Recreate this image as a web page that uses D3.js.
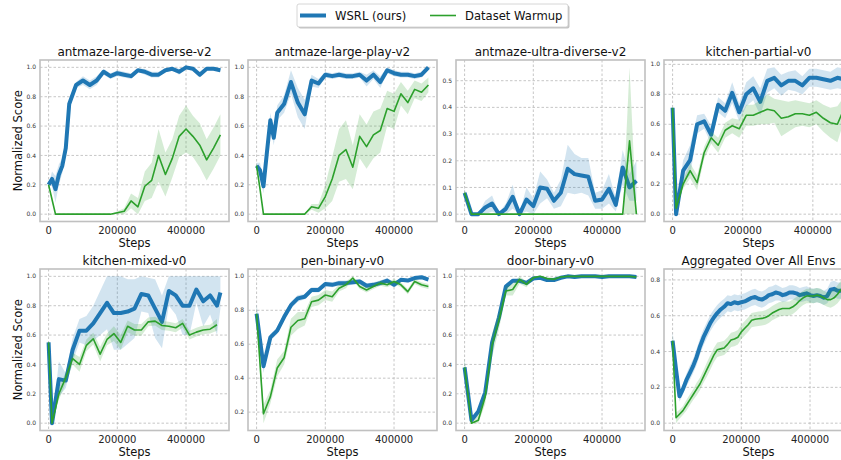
<!DOCTYPE html>
<html>
<head>
<meta charset="utf-8">
<script src="https://cdn.jsdelivr.net/npm/d3@7"></script>
<style>
  body { margin: 0; background: #fff; }
  svg { display: block; font-family: "DejaVu Sans", sans-serif; }
</style>
</head>
<body>
<div id="chart"></div>
<script>
// ---- data ----
const titles = ["antmaze-large-diverse-v2", "antmaze-large-play-v2", "antmaze-ultra-diverse-v2", "kitchen-partial-v0",
                "kitchen-mixed-v0", "pen-binary-v0", "door-binary-v0", "Aggregated Over All Envs"];
const seriesNames = ["WSRL (ours)", "Dataset Warmup"];
const xTicks = [0, 200000, 400000];

// antmaze-large-diverse
const ldSteps = [0,10000,20000,30000,40000,50000,60000,80000,100000,120000,140000,160000,180000,200000,220000,240000,260000,280000,300000,320000,340000,360000,380000,400000,420000,440000,460000,480000,500000];
const ldWsrl = [0.20,0.24,0.17,0.27,0.33,0.45,0.75,0.88,0.91,0.88,0.91,0.97,0.94,0.96,0.95,0.94,0.98,0.97,0.95,0.95,0.98,0.99,0.97,1.00,0.99,0.95,0.99,0.99,0.98];
const ldWsrlErr = [0.0,0.05,0.09,0.07,0.05,0.04,0.03,0.02,0.03,0.03,0.03,0.02,0.02,0.02,0.02,0.02,0.01,0.02,0.02,0.02,0.01,0.01,0.02,0.0,0.01,0.02,0.01,0.01,0.01];
const ldWarm = [0.20,0.10,0,0,0,0,0,0,0,0,0,0,0,0.01,0.02,0.09,0.05,0.19,0.23,0.40,0.27,0.38,0.53,0.58,0.53,0.47,0.37,0.45,0.54];
const ldWarmErr = [0,0,0,0,0,0,0,0,0,0,0,0,0,0.01,0.02,0.05,0.06,0.10,0.12,0.18,0.15,0.13,0.14,0.16,0.14,0.15,0.14,0.14,0.14];

// antmaze-large-play
const lpSteps = ldSteps;
const lpWsrl = [0.33,0.30,0.19,0.42,0.64,0.52,0.69,0.75,0.90,0.76,0.68,0.91,0.89,0.95,0.94,0.95,0.94,0.94,0.95,0.91,0.95,0.90,0.98,0.96,0.95,0.95,0.94,0.95,1.00];
const lpWsrlErr = [0.02,0.05,0.05,0.05,0.05,0.05,0.05,0.06,0.08,0.10,0.10,0.04,0.03,0.02,0.02,0.02,0.02,0.02,0.02,0.04,0.03,0.04,0.02,0.02,0.02,0.02,0.02,0.02,0.0];
const lpWarm = [0.33,0.17,0,0,0,0,0,0,0,0,0,0.05,0.04,0.12,0.24,0.40,0.44,0.32,0.53,0.46,0.54,0.57,0.72,0.70,0.82,0.76,0.85,0.83,0.88];
const lpWarmErr = [0.02,0,0,0,0,0,0,0,0,0,0,0.02,0.03,0.08,0.15,0.18,0.20,0.15,0.15,0.15,0.16,0.15,0.12,0.12,0.08,0.08,0.06,0.06,0.05];

// antmaze-ultra-diverse
const udSteps = [0,20000,40000,60000,80000,100000,120000,140000,160000,180000,200000,220000,240000,260000,280000,300000,320000,340000,360000,380000,400000,420000,440000,460000,480000,500000];
const udWsrl = [0.08,0.0,0.0,0.025,0.04,0.0,0.02,0.065,0.0,0.055,0.03,0.10,0.095,0.05,0.08,0.17,0.15,0.145,0.14,0.05,0.055,0.095,0.035,0.175,0.10,0.125];
const udWsrlErr = [0.015,0.003,0.003,0.025,0.03,0.005,0.02,0.045,0.003,0.045,0.03,0.06,0.035,0.03,0.05,0.09,0.075,0.065,0.07,0.03,0.035,0.055,0.025,0.065,0.05,0.075];
const udWarm = [0.08,0,0,0,0,0,0,0,0,0,0,0,0,0,0,0,0,0,0,0,0,0,0,0,0.275,0];
const udWarmErr = [0.01,0,0,0,0,0,0,0,0,0,0,0,0,0,0,0,0,0,0,0,0,0,0,0,0.275,0];

// kitchen-partial
const kpSteps = [0,10000,30000,50000,70000,90000,110000,130000,150000,170000,190000,210000,230000,250000,270000,290000,310000,330000,350000,370000,390000,410000,430000,450000,470000,490000];
const kpWsrl = [0.71,0.0,0.29,0.36,0.60,0.62,0.53,0.73,0.69,0.81,0.68,0.80,0.84,0.75,0.89,0.91,0.86,0.89,0.89,0.86,0.91,0.91,0.90,0.89,0.91,0.90];
const kpWsrlErr = [0.0,0.02,0.07,0.10,0.06,0.05,0.06,0.05,0.05,0.07,0.06,0.08,0.08,0.09,0.08,0.07,0.07,0.06,0.07,0.06,0.06,0.06,0.06,0.06,0.07,0.07];
const kpWarm = [0.71,0.04,0.20,0.29,0.21,0.41,0.51,0.46,0.56,0.59,0.57,0.66,0.66,0.68,0.70,0.69,0.64,0.65,0.67,0.67,0.66,0.68,0.64,0.61,0.60,0.71];
const kpWarmErr = [0.0,0.02,0.03,0.05,0.05,0.04,0.04,0.05,0.05,0.05,0.06,0.07,0.07,0.08,0.10,0.08,0.12,0.10,0.09,0.08,0.08,0.08,0.09,0.10,0.12,0.08];

// kitchen-mixed
const kmSteps = [0,10000,30000,50000,70000,90000,110000,130000,150000,170000,190000,210000,230000,250000,270000,290000,310000,330000,350000,370000,390000,410000,430000,450000,470000,490000,500000];
const kmWsrl = [0.55,0.0,0.30,0.29,0.50,0.63,0.63,0.68,0.75,0.82,0.75,0.75,0.76,0.78,0.88,0.87,0.78,0.69,0.90,0.87,0.80,0.80,0.91,0.83,0.87,0.80,0.89];
const kmWsrlErr = [0.0,0.01,0.12,0.05,0.08,0.08,0.10,0.12,0.15,0.18,0.25,0.25,0.22,0.20,0.12,0.12,0.20,0.18,0.10,0.13,0.20,0.20,0.09,0.17,0.13,0.20,0.11];
const kmWarm = [0.55,0.0,0.20,0.31,0.44,0.40,0.53,0.575,0.47,0.57,0.61,0.55,0.66,0.635,0.635,0.69,0.695,0.665,0.66,0.65,0.68,0.60,0.62,0.635,0.64,0.67,null];
const kmWarmErr = [0.0,0.01,0.04,0.04,0.04,0.05,0.04,0.04,0.05,0.04,0.05,0.05,0.04,0.04,0.04,0.03,0.03,0.03,0.03,0.03,0.03,0.03,0.03,0.03,0.03,0.04,null];

// pen-binary
const pbSteps = udSteps;
const pbWsrl = [0.78,0.47,0.64,0.68,0.76,0.83,0.87,0.88,0.92,0.92,0.955,0.95,0.96,0.96,0.965,0.97,0.945,0.95,0.96,0.975,0.95,0.98,0.975,0.99,0.995,0.98];
const pbWsrlErr = [0.06,0.04,0.02,0.02,0.02,0.02,0.02,0.015,0.015,0.015,0.015,0.015,0.015,0.015,0.015,0.015,0.015,0.015,0.015,0.015,0.015,0.01,0.01,0.01,0.005,0.01];
const pbWarm = [0.78,0.19,0.29,0.46,0.52,0.70,0.74,0.75,0.85,0.86,0.89,0.88,0.93,0.95,0.99,0.94,0.92,0.94,0.96,0.95,0.97,0.95,0.91,0.97,0.95,0.94];
const pbWarmErr = [0.05,0.055,0.04,0.05,0.04,0.05,0.05,0.04,0.03,0.03,0.03,0.03,0.02,0.02,0.01,0.015,0.015,0.015,0.015,0.015,0.015,0.015,0.015,0.015,0.015,0.015];

// door-binary
const dbSteps = udSteps;
const dbWsrl = [0.38,0.02,0.08,0.21,0.55,0.72,0.93,0.97,0.97,0.955,0.985,0.99,0.975,0.975,0.99,1.0,0.995,1.0,1.0,1.0,0.995,1.0,1.0,1.0,1.0,0.995];
const dbWsrlErr = [0.06,0.01,0.02,0.03,0.03,0.03,0.02,0.01,0.01,0.01,0.01,0.01,0.01,0.01,0.005,0.0,0.005,0.0,0.0,0.0,0.005,0.0,0.0,0.0,0.0,0.005];
const dbWarm = [0.38,0.0,0.02,0.18,0.53,0.70,0.90,0.91,0.98,0.945,0.99,1.0,0.985,0.98,0.995,1.0,1.0,1.0,1.0,1.0,1.0,1.0,1.0,1.0,1.0,0.995];
const dbWarmErr = [0.06,0.0,0.04,0.05,0.08,0.06,0.03,0.04,0.03,0.02,0.01,0.0,0.01,0.01,0.005,0.0,0.0,0.0,0.0,0.0,0.0,0.0,0.0,0.0,0.0,0.005];

// aggregated over all envs
const agSteps = [0,10000,20000,30000,40000,50000,60000,70000,80000,90000,100000,110000,120000,130000,140000,150000,160000,170000,180000,190000,200000,210000,220000,230000,240000,250000,260000,270000,280000,290000,300000,310000,320000,330000,340000,350000,360000,370000,380000,390000,400000,410000,420000,430000,440000,450000,460000,470000,480000,490000,500000];
const agWsrl = [0.46,0.30,0.15,0.19,0.24,0.28,0.32,0.37,0.43,0.48,0.52,0.56,0.59,0.615,0.635,0.65,0.67,0.665,0.675,0.67,0.675,0.68,0.69,0.70,0.705,0.695,0.69,0.70,0.715,0.72,0.73,0.725,0.715,0.72,0.73,0.73,0.725,0.715,0.72,0.725,0.715,0.71,0.715,0.71,0.70,0.71,0.745,0.75,0.74,0.74,0.745];
const agWsrlErr = [0.05,0.04,0.03,0.03,0.035,0.04,0.04,0.045,0.045,0.045,0.045,0.045,0.045,0.045,0.045,0.045,0.045,0.045,0.045,0.045,0.045,0.045,0.045,0.045,0.045,0.045,0.045,0.045,0.045,0.045,0.045,0.04,0.04,0.04,0.04,0.04,0.04,0.04,0.04,0.04,0.04,0.04,0.04,0.04,0.04,0.04,0.045,0.045,0.045,0.045,0.045];
const agWarm = [0.46,0.03,0.05,0.07,0.10,0.13,0.16,0.19,0.22,0.26,0.30,0.34,0.38,0.41,0.415,0.42,0.44,0.465,0.47,0.48,0.51,0.53,0.55,0.575,0.58,0.583,0.585,0.59,0.60,0.615,0.625,0.635,0.64,0.64,0.64,0.65,0.665,0.685,0.70,0.71,0.71,0.71,0.715,0.71,0.70,0.69,0.69,0.70,0.72,0.745,0.77];
const agWarmErr = [0.04,0.03,0.025,0.025,0.03,0.03,0.03,0.035,0.035,0.035,0.04,0.04,0.04,0.04,0.04,0.04,0.04,0.04,0.04,0.04,0.04,0.04,0.04,0.04,0.04,0.04,0.04,0.04,0.04,0.04,0.04,0.04,0.04,0.04,0.04,0.04,0.04,0.04,0.04,0.04,0.04,0.04,0.04,0.04,0.04,0.04,0.045,0.045,0.05,0.05,0.05];

const panels = [
  [ldSteps, ldWsrl, ldWsrlErr, ldWarm, ldWarmErr],
  [lpSteps, lpWsrl, lpWsrlErr, lpWarm, lpWarmErr],
  [udSteps, udWsrl, udWsrlErr, udWarm, udWarmErr],
  [kpSteps, kpWsrl, kpWsrlErr, kpWarm, kpWarmErr],
  [kmSteps, kmWsrl, kmWsrlErr, kmWarm, kmWarmErr],
  [pbSteps, pbWsrl, pbWsrlErr, pbWarm, pbWarmErr],
  [dbSteps, dbWsrl, dbWsrlErr, dbWarm, dbWarmErr],
  [agSteps, agWsrl, agWsrlErr, agWarm, agWarmErr]
];

// ---- layout ----
const W = 841, H = 460;
const colX = [40, 248, 456, 664], rowY = [60, 269];
const pw = 189, ph = 161.5;
const blue = "#1f77b4", green = "#2ca02c";

const svg = d3.select("#chart").append("svg")
  .attr("width", W).attr("height", H);

panels.forEach(function(p, i) {
  const [steps, wsrl, wsrlErr, warm, warmErr] = p;
  const col = i % 4, row = Math.floor(i / 4);
  // build rows with bands clipped to [0,1]
  const mk = (m, e) => steps.map((s, k) => m[k] == null ? null : {
    s: s, m: m[k], lo: Math.max(0, m[k] - e[k]), hi: Math.min(1, m[k] + e[k])
  });
  const a = mk(wsrl, wsrlErr), b = mk(warm, warmErr);
  const all = a.concat(b).filter(d => d);

  const xe = d3.extent(steps), xs = (xe[1] - xe[0]) * 0.05;
  const x = d3.scaleLinear().domain([xe[0] - xs, xe[1] + xs]).range([0, pw]);
  const ylo = d3.min(all, d => d.lo), yhi = d3.max(all, d => d.hi), ys = (yhi - ylo) * 0.05;
  const y = d3.scaleLinear().domain([ylo - ys, yhi + ys]).range([ph, 0]);

  const g = svg.append("g").attr("transform", `translate(${colX[col]},${rowY[row]})`);
  g.append("clipPath").attr("id", "clip" + i)
    .append("rect").attr("width", pw).attr("height", ph);

  // grid
  const yTicks = y.ticks(5);
  g.selectAll(".gx").data(xTicks).enter().append("line")
    .attr("x1", d => x(d)).attr("x2", d => x(d)).attr("y1", 0).attr("y2", ph)
    .attr("stroke", "#b8b8b8").attr("stroke-width", 0.8).attr("stroke-dasharray", "2.5,2");
  g.selectAll(".gy").data(yTicks).enter().append("line")
    .attr("x1", 0).attr("x2", pw).attr("y1", d => y(d)).attr("y2", d => y(d))
    .attr("stroke", "#b8b8b8").attr("stroke-width", 0.8).attr("stroke-dasharray", "2.5,2");

  const plot = g.append("g").attr("clip-path", `url(#clip${i})`);
  const area = d3.area().defined(d => d).x(d => x(d.s)).y0(d => y(d.lo)).y1(d => y(d.hi));
  const line = d3.line().defined(d => d).x(d => x(d.s)).y(d => y(d.m));

  plot.append("path").datum(a).attr("d", area).attr("fill", blue).attr("fill-opacity", 0.2);
  plot.append("path").datum(a).attr("d", line).attr("fill", "none")
    .attr("stroke", blue).attr("stroke-width", 4).attr("stroke-linejoin", "round");
  plot.append("path").datum(b).attr("d", area).attr("fill", green).attr("fill-opacity", 0.2);
  plot.append("path").datum(b).attr("d", line).attr("fill", "none")
    .attr("stroke", green).attr("stroke-width", 1.6).attr("stroke-linejoin", "round");

  // frame
  g.append("rect").attr("width", pw).attr("height", ph)
    .attr("fill", "none").attr("stroke", "#c0c0c0").attr("stroke-width", 1.6);

  // tick labels
  g.selectAll(".ty").data(yTicks).enter().append("text")
    .attr("x", -4).attr("y", d => y(d) + 2.1)
    .attr("text-anchor", "end").attr("font-size", 6).attr("fill", "#333")
    .text(d3.format(".1f"));
  g.selectAll(".tx").data(xTicks).enter().append("text")
    .attr("x", d => x(d)).attr("y", ph + 12.6)
    .attr("text-anchor", "middle").attr("font-size", 10).attr("fill", "#222")
    .text(d => d);

  // labels
  g.append("text").attr("x", pw / 2).attr("y", -4.5)
    .attr("text-anchor", "middle").attr("font-size", 12).attr("fill", "#111")
    .text(titles[i]);
  g.append("text").attr("x", pw / 2).attr("y", ph + 25)
    .attr("text-anchor", "middle").attr("font-size", 11.5).attr("fill", "#111")
    .text("Steps");
  if (col === 0) {
    g.append("text")
      .attr("transform", `translate(${21.5 - colX[0]},${ph / 2}) rotate(-90)`)
      .attr("text-anchor", "middle").attr("font-size", 11.5).attr("fill", "#111")
      .text("Normalized Score");
  }
});

// legend
const leg = svg.append("g");
leg.append("rect").attr("x", 298.5).attr("y", 5.5).attr("width", 271).attr("height", 23)
  .attr("rx", 2).attr("fill", "#888").attr("fill-opacity", 0.5);
leg.append("rect").attr("x", 297).attr("y", 4).attr("width", 271).attr("height", 23)
  .attr("rx", 2).attr("fill", "#fff").attr("stroke", "#ccc").attr("stroke-width", 0.8);
const legItems = [
  { name: seriesNames[0], color: blue, w: 4, x: 300 },
  { name: seriesNames[1], color: green, w: 1.6, x: 430 }
];
legItems.forEach(function(d) {
  leg.append("line").attr("x1", d.x).attr("x2", d.x + 26).attr("y1", 15.5).attr("y2", 15.5)
    .attr("stroke", d.color).attr("stroke-width", d.w);
  leg.append("text").attr("x", d.x + 35).attr("y", 19.8)
    .attr("font-size", 11.6).attr("fill", "#111").text(d.name);
});
</script>
</body>
</html>
